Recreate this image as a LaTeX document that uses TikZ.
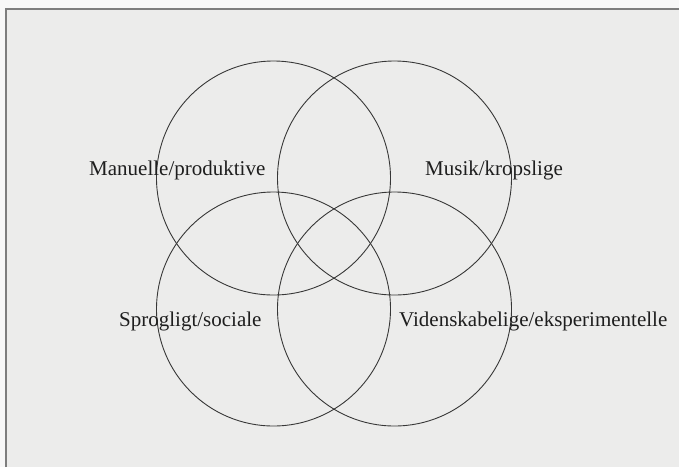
\documentclass[tikz,border=0pt]{standalone}
\usepackage{fontspec}
\setmainfont{Liberation Serif}
\definecolor{paper}{RGB}{236,236,235}
\definecolor{outer}{RGB}{247,247,247}
\definecolor{framec}{RGB}{125,125,125}
\definecolor{ink}{RGB}{55,55,55}
\definecolor{txt}{RGB}{30,30,30}
\tikzset{
  venn/.style={circle, draw=ink, line width=0.9pt, minimum size=234pt, inner sep=0pt},
  lbl/.style={anchor=base west, inner sep=0pt, text=txt, font=\fontsize{21}{24}\selectfont}
}
\begin{document}
\begin{tikzpicture}[x=1pt,y=-1pt]
\useasboundingbox (0,0) rectangle (679,467);
\fill[outer] (0,0) rectangle (679,467);
\fill[paper] (6,9) rectangle (679,467);
\draw[framec, line width=1.2pt] (6,467) -- (6,9) -- (679,9);
\node[venn] (tl) at (273.5,178) {};
\node[venn] (tr) at (394.5,178) {};
\node[venn] (bl) at (273.5,309) {};
\node[venn] (br) at (394.5,309) {};
\node[lbl] (manu) at (89,175) {Manuelle/produktive};
\node[lbl] (musik) at (425,175) {Musik/kropslige};
\node[lbl] (sprog) at (119,326) {Sprogligt/sociale};
\node[lbl] (viden) at (399,326) {Videnskabelige/eksperimentelle};
\end{tikzpicture}
\end{document}
